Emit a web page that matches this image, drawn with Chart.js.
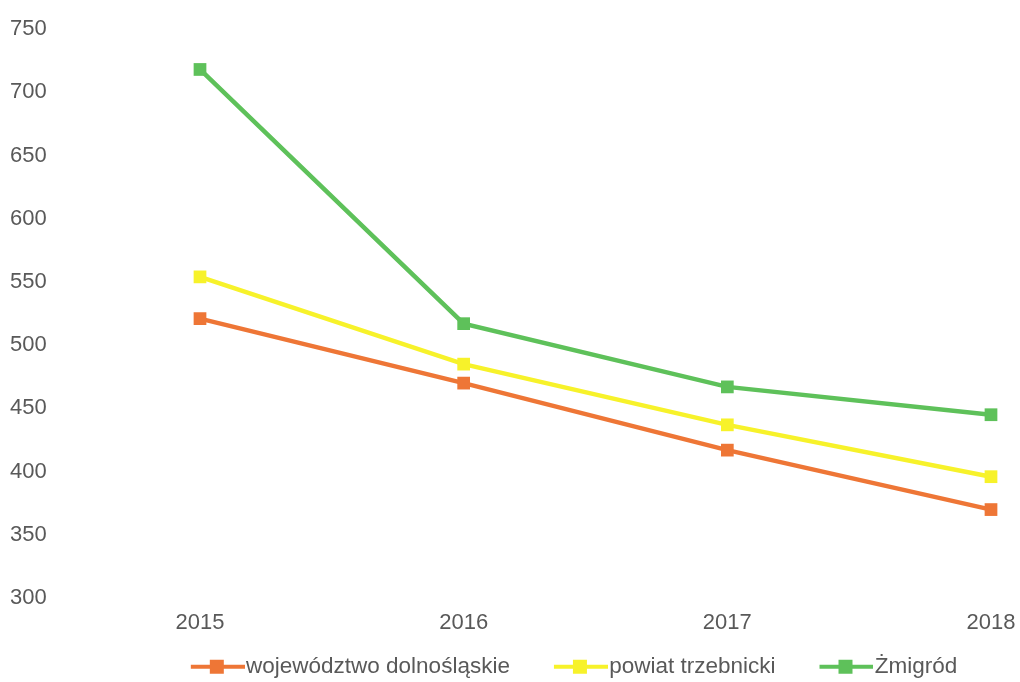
<!DOCTYPE html>
<html><head><meta charset="utf-8">
<script src="https://cdn.jsdelivr.net/npm/chart.js@4/dist/chart.umd.min.js"></script>
<style>html,body{margin:0;padding:0;background:#fff;}#wrap{width:1020px;height:682px;position:relative;}</style>
</head><body><div id="wrap"><canvas id="c" width="1020" height="682"></canvas></div>
<script>
const categories = ['2015', '2016', '2017', '2018'];
const seriesNames = ['województwo dolnośląskie', 'powiat trzebnicki', 'Żmigród'];
const wojewodztwo = [521, 470, 417, 370];
const powiat = [554, 485, 437, 396];
const zmigrod = [718, 517, 467, 445];
const yTicks = [300, 350, 400, 450, 500, 550, 600, 650, 700, 750];
const colors = ['#ee7636', '#f7f22a', '#5ec15a'];
const FONT = 'Liberation Sans, Arial, sans-serif';

function legendIcon(color) {
  const cv = document.createElement('canvas');
  cv.width = 98; cv.height = 16;
  const g = cv.getContext('2d');
  g.strokeStyle = color; g.lineWidth = 4;
  g.beginPath(); g.moveTo(44, 8); g.lineTo(98, 8); g.stroke();
  g.fillStyle = color; g.fillRect(63, 1, 14, 14);
  return cv;
}

const shiftLegend = {
  id: 'shiftLegend',
  afterLayout(chart) {
    const lg = chart.legend;
    if (!lg) return;
    lg.left += 42; lg.right += 42;
    lg.top -= 3; lg.bottom -= 3;
  }
};

const ds = [wojewodztwo, powiat, zmigrod].map((d, i) => ({
  label: seriesNames[i], data: d, borderColor: colors[i], backgroundColor: colors[i],
  borderWidth: 4.5, pointStyle: 'rect', pointRadius: 9, pointBorderWidth: 0,
  pointBackgroundColor: colors[i], tension: 0, order: 2 - i
}));

new Chart(document.getElementById('c'), {
  type: 'line',
  data: { labels: categories, datasets: ds },
  plugins: [shiftLegend],
  options: {
    responsive: false, animation: false,
    layout: { padding: { left: 10, right: 0, top: 29, bottom: -9 } },
    plugins: {
      tooltip: { enabled: false },
      legend: {
        position: 'bottom',
        labels: {
          usePointStyle: true, pointStyleWidth: 78, color: '#595959', font: { family: FONT, size: 22.5 },
          boxHeight: 16, padding: 10,
          generateLabels: (chart) => chart.data.datasets.map((d, i) => ({
            text: d.label, pointStyle: legendIcon(d.borderColor), fillStyle: d.borderColor,
            strokeStyle: d.borderColor, lineWidth: 0, hidden: false, datasetIndex: i, fontColor: '#595959'
          }))
        }
      }
    },
    scales: {
      x: {
        offset: false,
        grid: { display: false, drawTicks: false },
        border: { display: false },
        ticks: { color: '#595959', font: { family: FONT, size: 22 }, padding: 12 },
        afterFit: (axis) => { axis.paddingRight = 29; }
      },
      y: {
        min: 300, max: 750,
        afterBuildTicks: (axis) => { axis.ticks = yTicks.map(v => ({ value: v })); },
        afterFit: (axis) => { axis.width = 190; },
        grid: { display: false, drawTicks: false },
        border: { display: false },
        ticks: { color: '#595959', font: { family: FONT, size: 22 }, crossAlign: 'far', padding: 8 }
      }
    }
  }
});
</script></body></html>
